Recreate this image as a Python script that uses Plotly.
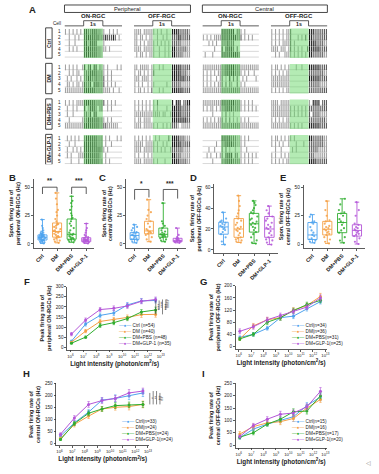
import plotly.graph_objects as go

W, H = 379, 474
FONT = "Liberation Sans, Arial, Helvetica, sans-serif"

GROUPS = ["Ctrl", "DM", "DM+PBS", "DM+GLP-1"]
COLORS = ["#4ea3ee", "#f5a045", "#2fae2f", "#b456d8"]

# ---------------- Panel A: spike rasters ----------------
# each row = 30 bins of 0.1 s ('.' no spike, 1 sparse, 2 medium, 3 dense)
BIN_S = 0.1
STIM = (1.0, 2.0)
TRACE_S = 3.0
RASTER_TITLES = ["ON-RGC", "OFF-RGC", "ON-RGC", "OFF-RGC"]
REGIONS = ["Peripheral", "Central"]
LEVEL_COLORS = {"1": "#a0a0a0", "2": "#5a5a5a", "3": "#141414"}

RASTER_P_ON = [
    "1.1.1.1.1." "3322333221" "1..1.1.1..",
    "..1..1.1.." "3333333322" "2322232.1.",
    "..1..1...." "3313333..." "1.........",
    "..1.1.1..." "3333333221" "11.1......",
    ".........." "3333333221" "..........",
    "1.1.1.1..1" "3.23.33.21" "1.1....1.1",
    "..1.1.11.." "2223333222" "1.1.1.....",
    ".1.1..1.1." "2233223222" "2.1.1.....",
    ".11.1.11.1" "3223.33322" "2.1.1.1...",
    "1111111111" "3333332222" "1111.1..1.",
    "1.1.1.1111" "3333332222" "2.1.1.1...",
    ".1..1.1..." "3.13332.22" "..1.1.....",
    ".1..1....." "2213.33..." "..........",
    "..1......1" "2233333322" "1.1.1.....",
    "1111111111" "3333333322" "22111111..",
    ".1.1.1.1.." "2333333222" ".1.1...1.1",
    "..1..1...." "3333333222" ".1..1.....",
    ".1..1.1.1." "3333333332" "1.1.......",
    ".1.1...111" "3333333321" ".1........",
    "...1...1.." "2333333322" ".1.1......",
]
RASTER_P_OFF = [
    "1111.11111" "1.1.1..1.." "3333222221",
    "11.11.1.11" "..1..1.1.." "2223322222",
    "11.1.1.111" "1.1.1.1.1." "2222211111",
    "1111.11111" "1..1..1.1." "3322222211",
    ".1.11.1.11" "1..1..1.1." "3322221111",
    "11.11111.1" "1..1.1...." "3333322222",
    "1.11.1.1.1" "2........." "3333322211",
    "111.1111.1" ".........." "3333333222",
    "1.1.1..1.1" "1......1.." "2222211111",
    "1.11.1.1.2" "...1.1...." "3333332222",
    "1.1.1.1.1." "1.2......." "3.333.2233",
    "1.1.1.1.1." "1.1....1.." "3333322222",
    "1111111111" "1111.11..1" "3333322222",
    "1.11.1111." ".........." "3333333322",
    "1111.11111" "1.1..1.1.1" "2221.11111",
    "1.1.1.1.1." ".1.1....2." "3333222111",
    "11111.1111" "1.1..1.1.." "3333322222",
    "1111.11111" "1.1.1.1..1" "2222221111",
    "1.1..1.1.1" ".........." "3322211111",
    "1111.11111" "1.1...1..." "3333222211",
]
RASTER_C_ON = [
    ".........." "3333333.22" "1.1.......",
    "1.1.1.1111" "3333333322" "2.1.1.1...",
    "...1.1.1.." "2223222..." "..........",
    "......1..." "3.33332.2." "..........",
    ".1...1...." "3333333332" "..........",
    "1111111111" "2233333222" "1111111111",
    "1.1.1.1.11" "2233333222" "1.1.1..1..",
    "1.1.1..1.1" "2.1.3.2.2." ".1.1....1.",
    "1.1.1.1.11" "2.2.21..2." "1.1.......",
    "1111111111" "2222222222" "1111111111",
    "1111111111" "3333333222" "1.1.1.1...",
    "1.1.11.1.1" "2233332222" "1.1.1.1.1.",
    ".....1...." "1.2.1.1..." "..........",
    "1.1.1.1.11" "2.2.2.1.1." "1.1.1.....",
    "1111111111" "2222222222" "1111111111",
    ".........." "3333322211" "1.1.1.....",
    ".......1.." "2233332211" "1.1.......",
    "...1..1..." "2.2.1..1.." "1..1......",
    "..1.1..1.1" "2.3333.22." "1.1.1.1.1.",
    ".....1...." "2233332222" "1.1.1.1...",
]
RASTER_C_OFF = [
    "1.1.1.1.11" "2........." "3332222222",
    "1.1.1.1.11" "2...1.1.2." "3322222222",
    "1.1.1.1111" "2.1......." "3333222211",
    "1111.111.1" "2.1.1.1..2" "3333332222",
    "..1.1..111" "1.1.1.1.1." "3322222211",
    "1.11.1.1.1" "...1..1..." "3333332222",
    "1.1.1.1.11" ".........." "2222222211",
    "1111111111" ".........." "3333332222",
    "1111111111" ".........." "2222221111",
    "1.1.1.1.11" ".........." "2222222222",
    "1111.11111" ".........." "1.3333.222",
    "1111111111" "1.1.1.1.1." "2222222222",
    "1111111111" "1.1.1.1.1." "2.22221111",
    "1.1.1.1.11" ".........." "2222222221",
    "1111111111" "1.1.1.1..." "3333332222",
    "1.11.1.1.1" "1.1......." "3322222211",
    "1.1.1.1..1" "...1...1.." "2222222211",
    "..1..1...." ".1.1......" "2222211111",
    "1.1..1.1.1" ".........." "2221111111",
    "1.1.1.1.11" ".........." "3333222222",
]
RASTERS = [RASTER_P_ON, RASTER_P_OFF, RASTER_C_ON, RASTER_C_OFF]

# ---------------- Panels B-E: spontaneous firing (Hz) ----------------
B_POINTS = [
    [0.5, 1, 1.5, 2, 2.5, 3, 3, 3.5, 3.5, 4, 4, 4.5, 5, 5, 5.5, 5.5, 6, 6, 6, 6.5, 6.5, 7, 7, 7.5, 7.5, 8, 8, 8.5, 9, 9.5, 10, 11, 12, 14, 16, 21.5],
    [1, 2, 3, 4, 5, 6, 6.5, 7, 8, 9, 10, 10.5, 11, 11.5, 12, 13, 14, 15, 16, 17, 17.5, 18, 20, 22, 25, 28, 30, 35, 40, 45],
    [1.5, 2, 3, 3.5, 4, 4.5, 5, 5.5, 6, 7, 8, 8.5, 9, 10, 12, 14, 16, 18, 20, 22, 23, 25, 27, 30, 33, 36, 38, 42],
    [0.5, 1, 1.5, 2, 2, 2.5, 3, 3, 3.5, 3.5, 4, 4, 4.5, 5, 5.5, 6, 7, 8, 10, 12, 14, 18],
]
B_MIN = [0.5, 1, 1.5, 0.5]
B_Q1 = [3.5, 6, 4.2, 2]
B_MED = [6, 11, 8.5, 3.5]
B_Q3 = [8, 18.5, 22, 5.5]
B_MAX = [21.5, 45, 42, 18]
B_SIG = [(0, 1, "**", 44, 46, 50), (2, 3, "***", 44, 44, 50)]

C_POINTS = [
    [1, 2, 3, 4, 4.5, 5, 6, 7, 7.5, 8, 9, 10, 10.5, 12, 14, 15, 17],
    [2, 4, 6, 8, 9, 10, 10.5, 11, 12, 13, 15, 18, 20, 22, 25, 28, 30, 39],
    [2, 3, 4, 5, 6, 6.5, 7, 7.5, 8, 8.5, 9, 10, 11, 12, 14, 16, 18, 20, 36],
    [1, 1.5, 2, 2, 2.5, 3, 3, 3.5, 4, 4.5, 5, 6, 8, 14],
]
C_MIN = [1, 2, 2, 1]
C_Q1 = [4, 9, 6, 2]
C_MED = [7.5, 11.5, 8.5, 3.2]
C_Q3 = [10, 20, 14, 5]
C_MAX = [17, 39, 36, 14]
C_SIG = [(0, 1, "*", 39, 41, 48), (2, 3, "***", 38, 40, 48)]

D_POINTS = [
    [5, 8, 12, 15, 17, 19, 20, 21, 22, 23, 24, 25, 26, 27, 28, 30, 36],
    [7, 8, 9, 10, 11, 12, 14, 16, 18, 19, 20, 21, 22, 24, 26, 28, 30, 32, 35, 38, 42, 47, 52],
    [6, 7, 9, 12, 15, 17, 19, 21, 22, 24, 25, 26, 27, 29, 30, 32, 35, 36, 38, 40, 43, 45, 47],
    [5, 7, 9, 10, 12, 14, 16, 18, 20, 21, 22, 24, 26, 28, 30, 32, 35, 38, 42],
]
D_MIN = [5, 7, 6, 5]
D_Q1 = [15, 12, 17, 12]
D_MED = [22, 20, 25, 20]
D_Q3 = [26.5, 30, 35, 32]
D_MAX = [36, 52, 47, 42]

E_POINTS = [
    [1, 2, 3, 4, 5, 7, 8, 10, 12, 15, 18, 19, 20, 24, 26],
    [0.5, 2, 4, 6, 8, 9, 10, 11, 12, 13, 14, 15, 16, 18, 20, 21, 25, 30, 38],
    [1, 3, 6, 10, 12, 14, 17, 19, 20, 22, 25, 27, 28, 30, 35, 40],
    [0, 2, 5, 7, 8, 9, 10, 11, 12, 13, 14, 15, 17, 18, 25, 30, 37],
]
E_MIN = [1, 0.5, 1, 0]
E_Q1 = [4, 8, 10, 7]
E_MED = [8, 13, 19, 12]
E_Q3 = [19, 20, 27, 17]
E_MAX = [26, 38, 40, 37]

# ---------------- Panels F-I: peak firing vs light intensity ----------------
LIGHT = [1.2e6, 1.5e7, 2.0e8, 2.3e9, 2.6e10, 3.2e11, 4.0e12]
LIGHT_TICKS = [1e6, 1e7, 1e8, 1e9, 1e10, 1e11, 1e12, 1e13]
LIGHT_TICKTEXT = ["10<sup>6</sup>", "10<sup>7</sup>", "10<sup>8</sup>", "10<sup>9</sup>",
                  "10<sup>10</sup>", "10<sup>11</sup>", "10<sup>12</sup>", "10<sup>13</sup>"]

F_MEAN = [[30, 115, 158, 170, 210, 230, 232],
          [25, 80, 128, 138, 148, 162, 163],
          [20, 50, 108, 122, 142, 175, 185],
          [65, 135, 187, 193, 205, 228, 237]]
F_SEM = [[5, 10, 12, 12, 12, 12, 12], [4, 8, 10, 10, 12, 14, 14],
         [3, 6, 10, 10, 10, 12, 14], [8, 10, 10, 12, 12, 12, 12]]
F_N = [54, 40, 48, 35]

G_MEAN = [[30, 40, 60, 95, 100, 125, 148],
          [25, 68, 88, 95, 120, 135, 165],
          [25, 40, 80, 95, 118, 138, 152],
          [50, 65, 88, 102, 115, 130, 160]]
G_SEM = [[5, 6, 6, 8, 8, 8, 8], [5, 8, 8, 8, 8, 8, 10],
         [5, 6, 8, 8, 8, 8, 8], [8, 8, 8, 8, 8, 8, 10]]
G_N = [34, 36, 31, 25]

H_MEAN = [[30, 85, 130, 180, 187, 197, 210],
          [20, 78, 113, 143, 150, 153, 162],
          [15, 82, 125, 143, 157, 160, 162],
          [37, 105, 162, 178, 187, 210, 218]]
H_SEM = [[5, 10, 10, 10, 15, 15, 15], [5, 10, 10, 10, 12, 14, 14],
         [4, 8, 10, 10, 12, 12, 12], [6, 10, 12, 12, 12, 14, 12]]
H_N = [33, 24, 24, 24]

I_MEAN = [[30, 65, 85, 100, 115, 160, 195],
          [45, 75, 90, 95, 108, 150, 185],
          [32, 50, 85, 105, 135, 138, 200],
          [35, 80, 105, 125, 130, 155, 218]]
I_SEM = [[6, 8, 8, 10, 10, 12, 15], [10, 10, 10, 12, 12, 12, 12],
         [6, 8, 8, 10, 12, 12, 12], [6, 8, 10, 12, 12, 12, 15]]
I_N = [15, 16, 17, 20]

# =====================================================================
fig = go.Figure()
layout = {}
shapes = []
annotations = []


def dom_x(a, b):
    return [a / W, b / W]


def dom_y(top, bottom):
    return [1 - bottom / H, 1 - top / H]


def px_x(p):
    return p / W


def px_y(p):
    return 1 - p / H


def add_text(text, x, y, size=5, bold=False, xanchor="center", yanchor="middle",
             angle=0, color="#222", xref="paper", yref="paper", align="center"):
    if bold:
        text = "<b>" + text + "</b>"
    annotations.append(dict(text=text, x=x, y=y, xref=xref, yref=yref, showarrow=False,
                            xanchor=xanchor, yanchor=yanchor, textangle=angle, align=align,
                            font=dict(size=size, color=color, family=FONT)))


# ---------- Panel A ----------
A_COL_PX = [(65, 123), (135, 192), (204, 261), (273, 330)]
A_ROW0_PX = 30.0
A_ROW_PX = 5.75
A_YMIN, A_YMAX = -2.3, 23.1
GROUP_STEP = 6.2
a_top = A_ROW0_PX + A_YMIN * A_ROW_PX
a_bot = A_ROW0_PX + A_YMAX * A_ROW_PX
layout["yaxis"] = dict(domain=dom_y(a_top, a_bot), range=[A_YMAX, A_YMIN], visible=False,
                       anchor="x")
for k, (a, b) in enumerate(A_COL_PX):
    key = "xaxis" if k == 0 else "xaxis%d" % (k + 1)
    layout[key] = dict(domain=dom_x(a, b), range=[0, TRACE_S], visible=False, anchor="y")

for k, rows in enumerate(RASTERS):
    xa = "x" if k == 0 else "x%d" % (k + 1)
    # baselines
    bx, by = [], []
    for r in range(len(rows)):
        g, c = divmod(r, 5)
        y = g * GROUP_STEP + c + 0.4
        bx += [0, TRACE_S, None]
        by += [y, y, None]
    fig.add_trace(go.Scatter(x=bx, y=by, mode="lines", xaxis=xa, yaxis="y",
                             line=dict(color="#b0b0b0", width=0.5), hoverinfo="skip"))
    xs, ys, cs = [], [], []
    for r, s in enumerate(rows):
        g, c = divmod(r, 5)
        y = g * GROUP_STEP + c
        for i, ch in enumerate(s):
            if ch != ".":
                xs.append((i + 0.5) * BIN_S)
                ys.append(y)
                cs.append(LEVEL_COLORS[ch])
    fig.add_trace(go.Scatter(x=xs, y=ys, mode="markers", xaxis=xa, yaxis="y",
                             marker=dict(symbol="line-ns", size=4.0,
                                         line=dict(width=1.05, color=cs)),
                             hoverinfo="skip"))
    # 1 s stimulus bracket
    fig.add_trace(go.Scatter(x=[0, STIM[0], STIM[0], STIM[1], STIM[1], TRACE_S],
                             y=[-1.05, -1.05, -1.95, -1.95, -1.05, -1.05],
                             mode="lines", xaxis=xa, yaxis="y",
                             line=dict(color="#333", width=0.8), hoverinfo="skip"))
    add_text("1s", (STIM[0] + STIM[1]) / 2, -1.45, size=5.2, bold=True, xref=xa, yref="y")
    # green stimulus windows
    for g in range(len(GROUPS)):
        shapes.append(dict(type="rect", xref=xa, yref="y", x0=STIM[0], x1=STIM[1],
                           y0=g * GROUP_STEP - 0.6, y1=g * GROUP_STEP + 4.55,
                           fillcolor="rgba(105,215,105,0.5)", line=dict(width=0),
                           layer="above"))
    a, b = A_COL_PX[k]
    add_text(RASTER_TITLES[k], px_x((a + b) / 2), px_y(14.5), size=6, bold=True)

# region boxes
for j, reg in enumerate(REGIONS):
    x0 = A_COL_PX[2 * j][0]
    x1 = A_COL_PX[2 * j + 1][1]
    shapes.append(dict(type="rect", xref="paper", yref="paper", x0=px_x(x0), x1=px_x(x1),
                       y0=px_y(10.5), y1=px_y(3), line=dict(color="#333", width=0.9)))
    add_text(reg, px_x((x0 + x1) / 2), px_y(6.8), size=5.8)

# group label boxes and cell numbers
for g, name in enumerate(GROUPS):
    y0 = g * GROUP_STEP - 0.7
    y1 = g * GROUP_STEP + 4.6
    shapes.append(dict(type="rect", xref="paper", yref="y", x0=px_x(46), x1=px_x(52.5),
                       y0=y0, y1=y1, line=dict(color="#333", width=0.9)))
    add_text(name, px_x(49.3), (y0 + y1) / 2, size=5.2, bold=True, angle=-90, yref="y")
    for c in range(5):
        add_text(str(c + 1), px_x(60), g * GROUP_STEP + c, size=4.6, yref="y")
add_text("Cell", px_x(57.5), px_y(21.5), size=4.6)

# ---------- Panels B-E ----------
BOX_PANELS = [
    dict(ax=5, xpx=(34, 95), ypx=(178, 247), yr=[-3.5, 57], tv=[0, 25, 50],
         title="Spon. firing rate of<br>peripheral ON-RGCs (Hz)",
         pts=B_POINTS, st=(B_MIN, B_Q1, B_MED, B_Q3, B_MAX), sig=B_SIG),
    dict(ax=6, xpx=(127, 187), ypx=(178, 247), yr=[-3.5, 57], tv=[0, 25, 50],
         title="Spon. firing rate of<br>central ON-RGCs (Hz)",
         pts=C_POINTS, st=(C_MIN, C_Q1, C_MED, C_Q3, C_MAX), sig=C_SIG),
    dict(ax=7, xpx=(216, 280), ypx=(183, 252), yr=[-3, 63], tv=[0, 20, 40, 60],
         title="Spon. firing rate of<br>peripheral OFF-RGCs (Hz)",
         pts=D_POINTS, st=(D_MIN, D_Q1, D_MED, D_Q3, D_MAX), sig=[]),
    dict(ax=8, xpx=(306, 368), ypx=(184, 247), yr=[-3.5, 52], tv=[0, 25, 50],
         title="Spon. firing rate of<br>central OFF-RGCs (Hz)",
         pts=E_POINTS, st=(E_MIN, E_Q1, E_MED, E_Q3, E_MAX), sig=[]),
]
for p in BOX_PANELS:
    n = p["ax"]
    xa, ya = "x%d" % n, "y%d" % n
    layout["xaxis%d" % n] = dict(domain=dom_x(*p["xpx"]), anchor=ya, range=[-0.6, 3.55],
                                 tickvals=[0, 1, 2, 3], ticktext=GROUPS, tickangle=-45,
                                 tickfont=dict(size=5.3, weight="bold", color="#222"),
                                 showline=True, linecolor="#333", linewidth=0.8,
                                 ticks="outside", ticklen=2, tickwidth=0.8, tickcolor="#333",
                                 showgrid=False, zeroline=False)
    layout["yaxis%d" % n] = dict(domain=dom_y(*p["ypx"]), anchor=xa, range=p["yr"],
                                 tickvals=p["tv"], tickfont=dict(size=4.8, color="#222"),
                                 showline=True, linecolor="#333", linewidth=0.8,
                                 ticks="outside", ticklen=2, tickwidth=0.8, tickcolor="#333",
                                 showgrid=False, zeroline=False,
                                 title=dict(text="<b>" + p["title"] + "</b>", standoff=3,
                                            font=dict(size=5.3, color="#222")))
    mn, q1, md, q3, mx = p["st"]
    for i in range(4):
        fig.add_trace(go.Box(x=[i], q1=[q1[i]], median=[md[i]], q3=[q3[i]],
                             lowerfence=[mn[i]], upperfence=[mx[i]], orientation="v",
                             xaxis=xa, yaxis=ya, width=0.62, fillcolor="white",
                             line=dict(color=COLORS[i], width=0.9), whiskerwidth=0.5,
                             boxpoints=False, hoverinfo="skip"))
        fig.add_trace(go.Box(x=[i] * len(p["pts"][i]), y=p["pts"][i], orientation="v",
                             xaxis=xa, yaxis=ya, width=0.62, boxpoints="all", jitter=0.85,
                             pointpos=0, fillcolor="rgba(0,0,0,0)",
                             line=dict(width=0, color="rgba(0,0,0,0)"),
                             marker=dict(color=COLORS[i], size=2.2, opacity=0.85,
                                         line=dict(width=0)),
                             hoverinfo="skip"))
    for (i0, i1, lab, l0, l1, top) in p["sig"]:
        fig.add_trace(go.Scatter(x=[i0, i0, i1, i1], y=[l0, top, top, l1], mode="lines",
                                 xaxis=xa, yaxis=ya, line=dict(color="#333", width=0.8),
                                 hoverinfo="skip"))
        add_text(lab, (i0 + i1) / 2, top + 0.8, size=6.5, bold=True, xref=xa, yref=ya,
                 yanchor="bottom")

# ---------- Panels F-I ----------
LINE_PANELS = [
    dict(ax=9, xpx=(67.75, 163.3), ypx=(286, 349.1), yr=[-12, 300], tv=[0, 50, 100, 150, 200, 250, 300],
         title="Peak firing rate of<br>peripheral ON-RGCs (Hz)", mean=F_MEAN, sem=F_SEM, n=F_N,
         sep=" ", leg=(118, 320)),
    dict(ax=10, xpx=(237.6, 329.2), ypx=(285, 348.4), yr=[-8, 200], tv=[0, 40, 80, 120, 160, 200],
         title="Peak firing rate of<br>peripheral OFF-RGCs (Hz)", mean=G_MEAN, sem=G_SEM, n=G_N,
         sep="", leg=(292, 320)),
    dict(ax=11, xpx=(56.8, 150.4), ypx=(383, 445.4), yr=[-10, 250], tv=[0, 50, 100, 150, 200, 250],
         title="Peak firing rate of<br>central ON-RGCs (Hz)", mean=H_MEAN, sem=H_SEM, n=H_N,
         sep="", leg=(121, 417)),
    dict(ax=12, xpx=(237.6, 329.2), ypx=(383, 447.5), yr=[-10, 250], tv=[0, 50, 100, 150, 200, 250],
         title="Peak firing rate of<br>central OFF-RGCs (Hz)", mean=I_MEAN, sem=I_SEM, n=I_N,
         sep="", leg=(292, 417)),
]
for p in LINE_PANELS:
    n = p["ax"]
    xa, ya = "x%d" % n, "y%d" % n
    layout["xaxis%d" % n] = dict(domain=dom_x(*p["xpx"]), anchor=ya, type="log",
                                 range=[5.75, 13.1], tickvals=LIGHT_TICKS, ticktext=LIGHT_TICKTEXT,
                                 tickfont=dict(size=4.3, color="#222"), tickangle=0,
                                 showline=True, linecolor="#333", linewidth=0.8,
                                 ticks="outside", ticklen=2, tickwidth=0.8, tickcolor="#333",
                                 showgrid=False, zeroline=False,
                                 title=dict(text="<b>Light intensity (photon/cm<sup>2</sup>/s)</b>",
                                            standoff=3, font=dict(size=6.3, color="#222")))
    layout["yaxis%d" % n] = dict(domain=dom_y(*p["ypx"]), anchor=xa, range=p["yr"],
                                 tickvals=p["tv"], tickfont=dict(size=4.6, color="#222"),
                                 showline=True, linecolor="#333", linewidth=0.8,
                                 ticks="outside", ticklen=2, tickwidth=0.8, tickcolor="#333",
                                 showgrid=False, zeroline=False,
                                 title=dict(text="<b>" + p["title"] + "</b>", standoff=3,
                                            font=dict(size=5.5, color="#222")))
    for i in range(4):
        fig.add_trace(go.Scatter(x=LIGHT, y=p["mean"][i], mode="lines+markers",
                                 xaxis=xa, yaxis=ya,
                                 line=dict(color=COLORS[i], width=1),
                                 marker=dict(color=COLORS[i], size=3),
                                 error_y=dict(type="data", array=p["sem"][i], color=COLORS[i],
                                              thickness=0.6, width=1.2),
                                 hoverinfo="skip"))
    lines = []
    for i in range(4):
        lines.append('<span style="color:%s">—●—</span> %s%s(n=%d)'
                     % (COLORS[i], GROUPS[i], p["sep"], p["n"][i]))
    lx, ly = p["leg"]
    add_text("<br>".join(lines), px_x(lx), px_y(ly), size=4.7, xanchor="left",
             yanchor="top", align="left")

# significance marks beside F and H
F_SIG = [("****", 163, 232), ("****", 185, 232), ("****", 163, 237), ("####", 185, 237)]
H_SIG = [("*", 162, 210), ("**", 162, 218), ("***", 162, 218), ("##", 162, 210)]
for sig, ya, x0 in ((F_SIG, "y9", 157), (H_SIG, "y11", 151)):
    for j, (lab, lo, hi) in enumerate(sig):
        xp = x0 + j * 3.4
        shapes.append(dict(type="line", xref="paper", yref=ya, x0=px_x(xp), x1=px_x(xp),
                           y0=lo, y1=hi, line=dict(color="#333", width=0.6)))
        add_text(lab, px_x(xp + 1.6), (lo + hi) / 2, size=4, angle=90, xref="paper", yref=ya)

# panel letters
for lab, x, y in [("A", 33, 8), ("B", 13, 176), ("C", 103, 176), ("D", 195, 176),
                  ("E", 285, 176), ("F", 27, 281), ("G", 205, 281), ("H", 27, 373),
                  ("I", 205, 373)]:
    add_text(lab, px_x(x), px_y(y), size=9.5, bold=True)

add_text("◁", px_x(371), px_y(463), size=6, color="#888")

layout.update(width=W, height=H, margin=dict(l=0, r=0, t=0, b=0),
              paper_bgcolor="white", plot_bgcolor="white", showlegend=False,
              boxmode="overlay", font=dict(family=FONT, size=5, color="#222"),
              shapes=shapes, annotations=annotations)
fig.update_layout(**layout)
fig.write_html("out.html", config={"displayModeBar": False, "staticPlot": True})

# remove the browser's default page margin so the 379x474 figure fills the window
with open("out.html", "r", encoding="utf-8") as fh:
    html = fh.read()
html = html.replace("<head>", "<head><style>html,body{margin:0;padding:0;overflow:hidden;}</style>", 1)
with open("out.html", "w", encoding="utf-8") as fh:
    fh.write(html)
